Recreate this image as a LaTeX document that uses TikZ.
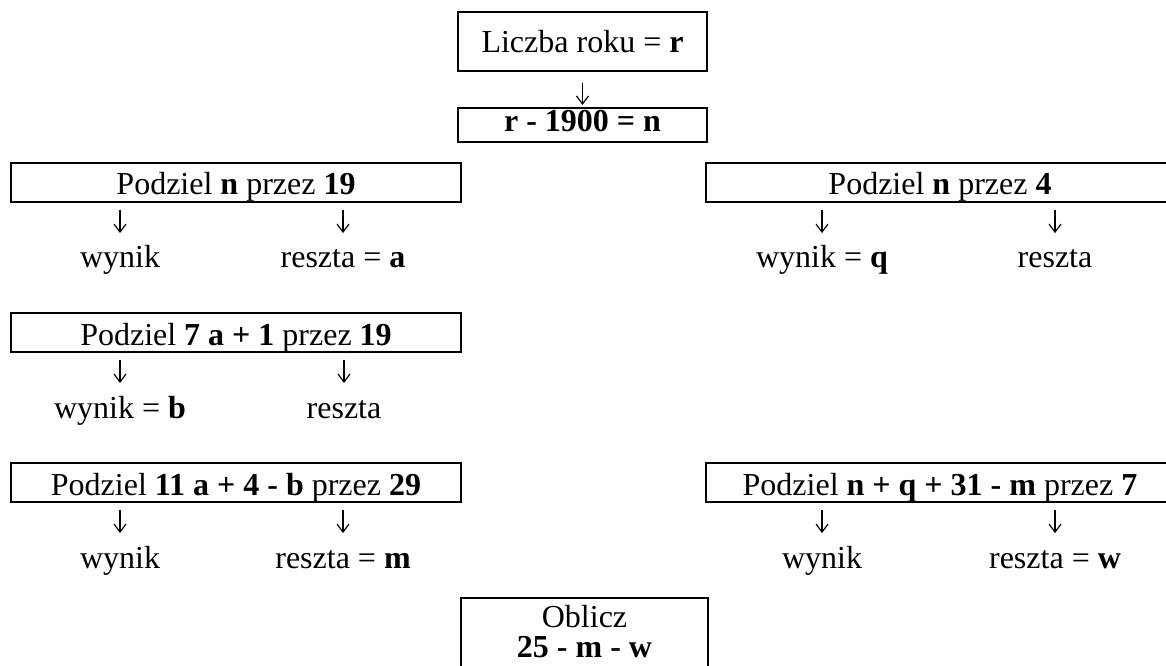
\documentclass[tikz,border=0pt]{standalone}
\usepackage{fontspec}
\setmainfont{Liberation Serif}
\usetikzlibrary{arrows.meta,calc}
\begin{document}
\begin{tikzpicture}[x=0.75pt,y=-0.75pt,
  box/.style={draw,line width=1.6pt,inner sep=0pt,text height=22pt,text depth=3.25pt,
    minimum height=29.25pt,font=\fontsize{24}{28}\selectfont},
  lbl/.style={anchor=base,inner sep=0pt,text height=17pt,text depth=6pt,font=\fontsize{24}{28}\selectfont},
  arr/.style={line width=0.9pt,-{Straight Barb[length=6pt,width=9pt,line width=0.9pt]}},
  sub/.style={arr,shorten <=5pt,shorten >=9pt}]
\useasboundingbox (0,0) rectangle (1166,666);
\clip (0,0) rectangle (1166,666);

% top boxes
\node[box,minimum width=186.75pt,minimum height=44.25pt,text depth=4.75pt] (A) at (582.5,41.5) {Liczba roku = \textbf{r}};
\node[box,minimum width=186.75pt,minimum height=25.5pt,text height=16pt,text depth=5.5pt] (B) at (582.5,125) {\textbf{r - 1900 = n}};
\draw[arr,shorten <=8.5pt,shorten >=1.5pt] (A.south) -- (B.north);

% division boxes
\node[box,minimum width=337.5pt] (C) at (236,182.5) {Podziel \textbf{n} przez \textbf{19}};
\node[box,minimum width=351pt] (D) at (940,182.5) {Podziel \textbf{n} przez \textbf{4}};
\node[box,minimum width=337.5pt] (E) at (236,332.5) {Podziel \textbf{7 a + 1} przez \textbf{19}};
\node[box,minimum width=337.5pt] (F) at (236,482.5) {Podziel \textbf{11 a + 4 - b} przez \textbf{29}};
\node[box,minimum width=351pt] (G) at (940,482.5) {Podziel \textbf{n + q + 31 - m} przez \textbf{7}};

% results
\node[lbl] (c1) at (120,268) {wynik};
\node[lbl] (c2) at (343,268) {reszta = \textbf{a}};
\node[lbl] (d1) at (822,268) {wynik = \textbf{q}};
\node[lbl] (d2) at (1055,268) {reszta};
\node[lbl] (e1) at (120,418) {wynik = \textbf{b}};
\node[lbl] (e2) at (344,418) {reszta};
\node[lbl] (f1) at (120,568) {wynik};
\node[lbl] (f2) at (343,568) {reszta = \textbf{m}};
\node[lbl] (g1) at (822,568) {wynik};
\node[lbl] (g2) at (1055,568) {reszta = \textbf{w}};

\foreach \b/\t in {C/c1,C/c2,D/d1,D/d2,E/e1,E/e2,F/f1,F/f2,G/g1,G/g2}
  \draw[sub] (\b.south -| \t) -- (\t.north);

% final box (its lower edge lies below the page)
\node[draw,line width=1.6pt,inner sep=0pt,minimum width=185.25pt,minimum height=80pt,anchor=north] (H) at (584.5,597) {};
\node[align=center,inner sep=0pt,font=\fontsize{24}{22.5}\selectfont] (Ht) at (584.5,632) {Oblicz\\\textbf{25 - m - w}};
\end{tikzpicture}
\end{document}
